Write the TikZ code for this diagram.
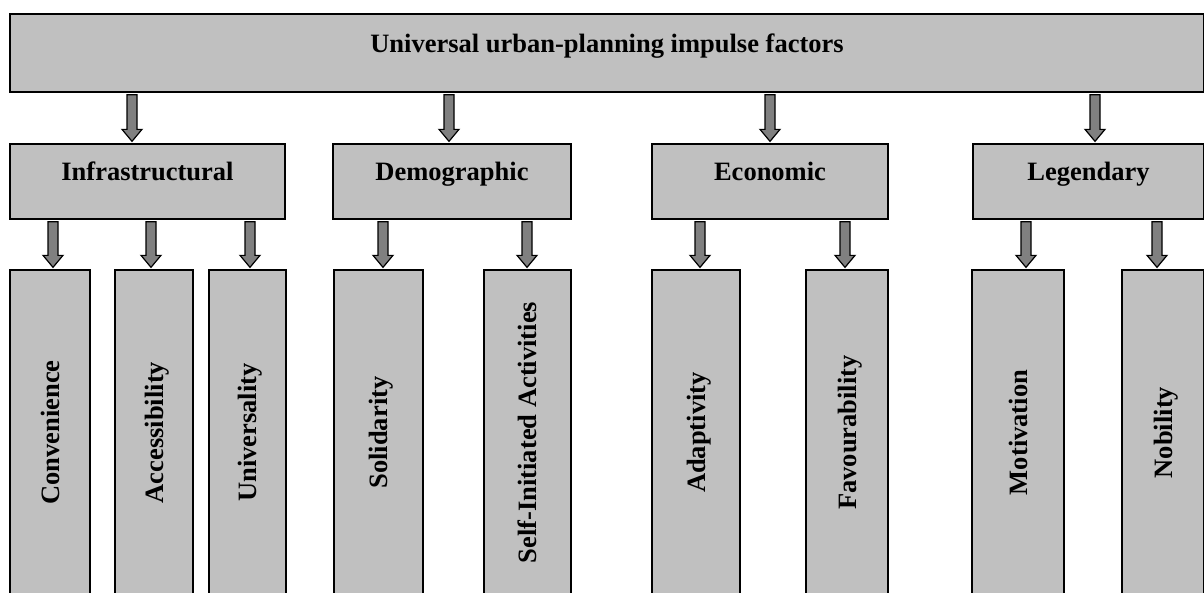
\documentclass[tikz,border=0pt]{standalone}
\usepackage{fontspec}
\setmainfont{Liberation Serif}
\usetikzlibrary{calc}
\definecolor{boxgray}{RGB}{192,192,192}
\definecolor{arrowgray}{RGB}{128,128,128}
\tikzset{
  factor/.style={draw=black, line width=1.3pt, fill=boxgray, inner sep=0pt,
    font=\bfseries\fontsize{26.5}{30}\selectfont},
  headbox/.style={factor, text height=18pt, text depth=21pt},
  sidebox/.style={factor, rotate=90, text height=18pt, text depth=0pt},
  blockarrow/.style={draw=black, line width=1.2pt, fill=arrowgray, line join=miter}
}
% block arrow from anchor #1 down to anchor #2 at x = #3
\newcommand\barrow[3]{%
  \edef\ax{#3}%
  \draw[blockarrow] let \p1=(#1), \p2=(#2) in
    (\ax pt-5pt,\y1-2pt) -- (\ax pt+5pt,\y1-2pt) -- (\ax pt+5pt,\y2+14pt)
    -- (\ax pt+10pt,\y2+14pt) -- (\ax pt,\y2+2pt) -- (\ax pt-10pt,\y2+14pt)
    -- (\ax pt-5pt,\y2+14pt) -- cycle;}
\begin{document}
\begin{tikzpicture}[x=1pt, y=-1pt]
            \useasboundingbox (0,0) rectangle (1204,592);
            \node[factor, text height=18pt, text depth=20pt, minimum width=1194pt, minimum height=78pt]
                (top) at (607,53) {Universal urban-planning impulse factors};
            % groups
            \foreach\nd/\xa/\xb/\t in {infra/10/285/Infrastructural, demo/333/571/Demographic,
                econ/652/888/Economic, legend/973/1204/Legendary}{
                \node[headbox, minimum width={(\xb-\xa)*1pt}, minimum height=75pt]
                    (\nd) at ({(\xa+\xb)/2},181.5) {\t};
            }
            % factors (rotated, so their top side is .east)
            \foreach\nd/\xa/\xb/\t in {conv/10/90/Convenience, access/115/193/Accessibility,
                univ/209/286/Universality, solid/334/423/Solidarity,
                self/484/571/Self-Initiated Activities, adapt/652/740/Adaptivity,
                favour/806/888/Favourability, motiv/972/1064/Motivation, nobil/1122/1204/Nobility}{
                \node[sidebox, minimum width=325pt, minimum height={(\xb-\xa)*1pt}]
                    (\nd) at ({(\xa+\xb)/2},432.5) {\t};
            }
            \foreach\nd/\px in {infra/132, demo/449, econ/770, legend/1095}{\barrow{top.south}{\nd.north}{\px}}
            \foreach\src/\nd/\px in {infra/conv/53, infra/access/151, infra/univ/250,
                demo/solid/383, demo/self/527, econ/adapt/700, econ/favour/845,
                legend/motiv/1026, legend/nobil/1157}{\barrow{\src.south}{\nd.east}{\px}}
        \end{tikzpicture}
\end{document}
